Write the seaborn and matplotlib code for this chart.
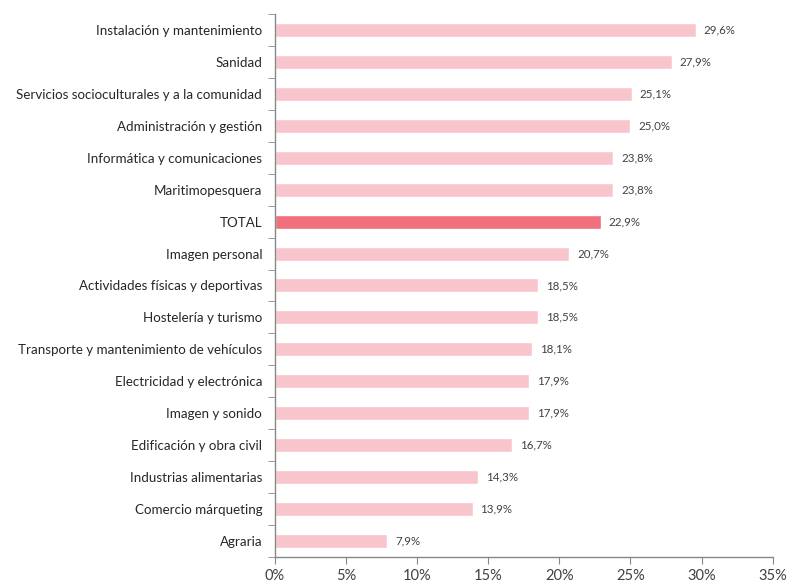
import matplotlib
matplotlib.use("Agg")
import matplotlib.pyplot as plt
from matplotlib.ticker import FixedLocator, PercentFormatter
import seaborn as sns
import pandas as pd
import numpy as np

categories = [
    "Instalación y mantenimiento", "Sanidad",
    "Servicios socioculturales y a la comunidad", "Administración y gestión",
    "Informática y comunicaciones", "Maritimopesquera", "TOTAL",
    "Imagen personal", "Actividades físicas y deportivas", "Hostelería y turismo",
    "Transporte y mantenimiento de vehículos", "Electricidad y electrónica",
    "Imagen y sonido", "Edificación y obra civil", "Industrias alimentarias",
    "Comercio márqueting", "Agraria",
]
values = [29.6, 27.9, 25.1, 25.0, 23.8, 23.8, 22.9, 20.7, 18.5, 18.5,
          18.1, 17.9, 17.9, 16.7, 14.3, 13.9, 7.9]

df = pd.DataFrame({"cat": categories, "val": values})
palette = {c: ("#F0707E" if c == "TOTAL" else "#F8C5CD") for c in categories}

sns.set_style("white")
plt.rcParams["font.family"] = ["Lato", "DejaVu Sans"]

fig = plt.figure(figsize=(7.87, 5.82), dpi=100)
ax = fig.add_axes([0.349, 0.043, 0.633, 0.933])
sns.barplot(data=df, x="val", y="cat", hue="cat", palette=palette,
            legend=False, width=0.44, ax=ax, saturation=1)

for i, v in enumerate(values):
    ax.text(v + 0.55, i, f"{v:.1f}%".replace(".", ","), va="center",
            ha="left", fontsize=8.3, color="#404040")

ax.set_xlim(0, 35)
ax.set_ylim(len(categories) - 0.5, -0.5)
ax.set_xticks(np.arange(0, 36, 5))
ax.xaxis.set_major_formatter(PercentFormatter(decimals=0))
ax.yaxis.set_minor_locator(FixedLocator(np.arange(-0.5, len(categories), 1)))
ax.tick_params(axis="y", which="major", length=0, labelsize=9.6,
               labelcolor="#262626", pad=9)
ax.tick_params(axis="y", which="minor", length=5, color="#888888", left=True)
ax.tick_params(axis="x", length=5, color="#888888", bottom=True,
               labelsize=10.5, labelcolor="#404040")
ax.set_xlabel("")
ax.set_ylabel("")
for s in ["top", "right"]:
    ax.spines[s].set_visible(False)
for s in ["left", "bottom"]:
    ax.spines[s].set_color("#888888")
    ax.spines[s].set_linewidth(1)

plt.savefig("out.png", dpi=100)
